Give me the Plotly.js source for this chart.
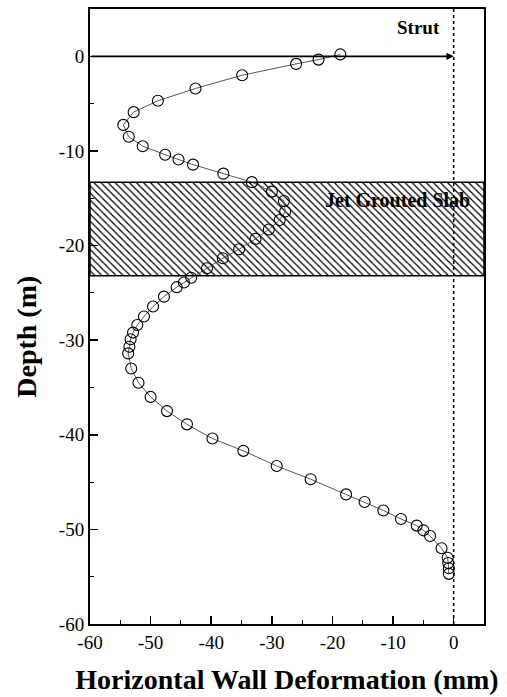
<!DOCTYPE html>
<html>
<head>
<meta charset="utf-8">
<script src="https://cdn.plot.ly/plotly-3.0.1.min.js"></script>
<style>html,body{margin:0;padding:0;background:#fff;}#chart{width:507px;height:697px;}</style>
</head>
<body>
<div id="chart"></div>
<script>
// Horizontal wall deformation (mm) versus depth (m)
const deformation = [-18.7,-22.3,-26.0,-34.9,-42.6,-48.8,-52.8,-54.5,-53.6,-51.3,-47.6,-45.4,-43.0,-38.0,-33.3,-30.0,-28.0,-27.8,-28.7,-30.5,-32.7,-35.4,-38.1,-40.7,-43.3,-44.5,-45.7,-47.8,-49.6,-51.1,-52.2,-52.9,-53.3,-53.5,-53.7,-53.2,-52.0,-50.0,-47.3,-44.0,-39.8,-34.7,-29.2,-23.6,-17.75,-14.7,-11.6,-8.7,-6.1,-5.0,-3.9,-2.0,-1.0,-0.9,-0.8,-0.8];
const depth = [0.2,-0.35,-0.8,-2.0,-3.4,-4.7,-5.9,-7.25,-8.5,-9.5,-10.4,-10.9,-11.45,-12.4,-13.3,-14.3,-15.3,-16.4,-17.3,-18.3,-19.3,-20.4,-21.35,-22.4,-23.4,-23.9,-24.4,-25.4,-26.45,-27.5,-28.4,-29.2,-29.9,-30.7,-31.4,-33.0,-34.5,-36.0,-37.5,-38.9,-40.4,-41.7,-43.3,-44.7,-46.3,-47.1,-48.0,-48.9,-49.6,-50.1,-50.7,-52.0,-53.0,-53.55,-54.1,-54.7];

const xRange = [-60, 5];
const yRange = [-60, 5];
const xTicks = [-60, -50, -40, -30, -20, -10, 0];
const xTickText = ['-60', '-50', '-40', '-30', '-20', '-10', '0'];
const yTicks = [-60, -50, -40, -30, -20, -10, 0];
const yTickText = ['-60', '-50', '-40', '-30', '-20', '-10', '0'];
const slabTop = -13.3;
const slabBottom = -23.2;
const strutDepth = 0;
const strutStart = -60;
const strutEnd = 0;
const zeroLineX = 0;

const serif = "Liberation Serif, Times New Roman, serif";

const slab = {
  x: [xRange[0], xRange[1], xRange[1], xRange[0], xRange[0]],
  y: [slabTop, slabTop, slabBottom, slabBottom, slabTop],
  mode: 'lines',
  fill: 'toself',
  fillcolor: 'rgba(255,255,255,0)',
  fillpattern: {shape: '\\', size: 5, solidity: 0.25, fgcolor: '#000', bgcolor: '#fff'},
  line: {color: '#000', width: 1.5},
  hoverinfo: 'skip',
  showlegend: false
};

const zeroLine = {
  x: [zeroLineX, zeroLineX],
  y: yRange,
  mode: 'lines',
  line: {color: '#000', width: 1.5, dash: 'dot'},
  showlegend: false
};

const wall = {
  x: deformation,
  y: depth,
  mode: 'lines+markers',
  line: {color: '#444', width: 0.9},
  marker: {symbol: 'circle-open', size: 11, color: '#000', line: {width: 1.1, color: '#000'}},
  showlegend: false
};

const layout = {
  width: 507,
  height: 697,
  margin: {l: 90, r: 23, t: 9, b: 73},
  paper_bgcolor: '#fff',
  plot_bgcolor: '#fff',
  font: {family: serif, color: '#000'},
  showlegend: false,
  xaxis: {
    range: xRange,
    tickvals: xTicks,
    ticktext: xTickText,
    ticks: 'inside',
    ticklen: 8,
    tickwidth: 1.5,
    tickcolor: '#000',
    minor: {dtick: 5, ticks: 'inside', ticklen: 4, tickwidth: 1, tickcolor: '#000'},
    showline: true,
    linecolor: '#000',
    linewidth: 2,
    mirror: true,
    showgrid: false,
    zeroline: false,
    tickfont: {family: serif, size: 19, color: '#000'},
    title: {text: '<b>Horizontal Wall Deformation (mm)</b>', font: {family: serif, size: 28, color: '#000'}, standoff: 18}
  },
  yaxis: {
    range: yRange,
    tickvals: yTicks,
    ticktext: yTickText,
    ticks: 'inside',
    ticklen: 8,
    tickwidth: 1.5,
    tickcolor: '#000',
    minor: {dtick: 5, ticks: 'inside', ticklen: 4, tickwidth: 1, tickcolor: '#000'},
    showline: true,
    linecolor: '#000',
    linewidth: 2,
    mirror: true,
    showgrid: false,
    zeroline: false,
    tickfont: {family: serif, size: 19, color: '#000'}
  },
  annotations: [
    {
      x: strutEnd, y: strutDepth, ax: strutStart, ay: strutDepth,
      xref: 'x', yref: 'y', axref: 'x', ayref: 'y',
      showarrow: true, arrowhead: 2, arrowsize: 0.8, arrowwidth: 1.8, arrowcolor: '#000', text: ''
    },
    {
      x: -5.8, y: 3, xref: 'x', yref: 'y', text: '<b>Strut</b>', showarrow: false,
      xanchor: 'center', yanchor: 'middle', font: {family: serif, size: 19, color: '#000'}
    },
    {
      x: -9.3, y: -15.2, xref: 'x', yref: 'y', text: '<b>Jet Grouted Slab</b>', showarrow: false,
      xanchor: 'center', yanchor: 'middle', font: {family: serif, size: 20, color: '#000'}
    },
    {
      x: -0.16, y: 0.467, xref: 'paper', yref: 'paper', text: '<b>Depth (m)</b>', showarrow: false,
      textangle: -90, xanchor: 'center', yanchor: 'middle', font: {family: serif, size: 28, color: '#000'}
    }
  ]
};

Plotly.newPlot('chart', [slab, zeroLine, wall], layout, {staticPlot: true, displayModeBar: false});
</script>
</body>
</html>
